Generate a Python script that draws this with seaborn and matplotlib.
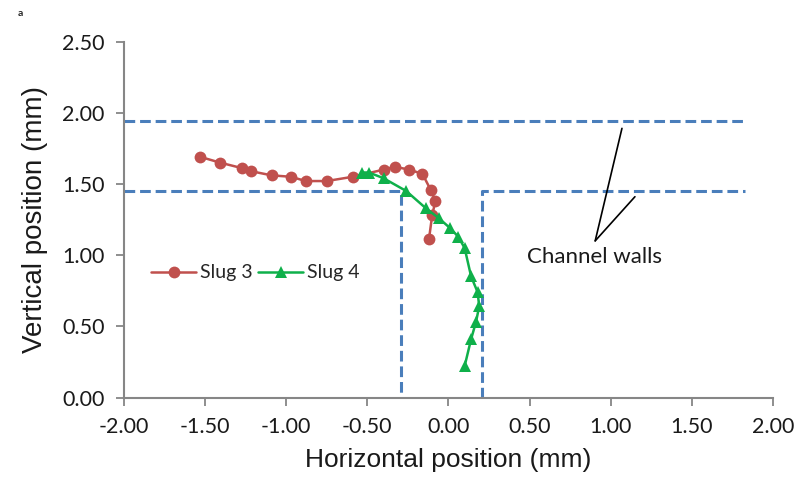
import matplotlib.pyplot as plt
import pandas as pd
import seaborn as sns

# slug centre trajectories (mm)
slug3_x = [-1.53, -1.41, -1.27, -1.22, -1.09, -0.97, -0.88, -0.75, -0.59,
           -0.40, -0.33, -0.24, -0.16, -0.11, -0.08, -0.10, -0.12]
slug3_y = [1.69, 1.65, 1.61, 1.59, 1.56, 1.55, 1.52, 1.52, 1.55,
           1.60, 1.62, 1.60, 1.57, 1.46, 1.38, 1.28, 1.11]
slug4_x = [-0.53, -0.49, -0.40, -0.26, -0.14, -0.06, 0.01, 0.06, 0.10,
           0.14, 0.18, 0.19, 0.17, 0.14, 0.10]
slug4_y = [1.58, 1.58, 1.54, 1.45, 1.33, 1.26, 1.19, 1.13, 1.05,
           0.85, 0.74, 0.64, 0.53, 0.41, 0.22]

# channel wall geometry (mm)
wall_upper_y = 1.94
wall_lower_y = 1.45
wall_left_x = -0.29
wall_right_x = 0.21
wall_start_x = -2.0
wall_end_x = 1.83

x_ticks = [-2.0, -1.5, -1.0, -0.5, 0.0, 0.5, 1.0, 1.5, 2.0]
y_ticks = [0.0, 0.5, 1.0, 1.5, 2.0, 2.5]

df = pd.concat([
    pd.DataFrame({"x": slug3_x, "y": slug3_y, "slug": "Slug 3"}),
    pd.DataFrame({"x": slug4_x, "y": slug4_y, "slug": "Slug 4"}),
])

sns.set_theme(style="ticks")
plt.rcParams["font.family"] = ["Lato", "DejaVu Sans"]

fig = plt.figure(figsize=(8, 5), dpi=100)
ax = fig.add_axes([0.155, 0.205, 0.811, 0.712])

# walls
wall_kw = dict(color="#4a7ebb", lw=2.2, linestyle=(0, (3.5, 1.6)), zorder=1)
ax.plot([wall_start_x, wall_end_x], [wall_upper_y, wall_upper_y], **wall_kw)
ax.plot([wall_start_x, wall_left_x, wall_left_x],
        [wall_lower_y, wall_lower_y, 0], **wall_kw)
ax.plot([wall_right_x, wall_right_x, wall_end_x],
        [0, wall_lower_y, wall_lower_y], **wall_kw)

sns.lineplot(
    data=df, x="x", y="y", hue="slug", style="slug",
    palette=["#c0504d", "#0fb04a"], markers=["o", "^"], dashes=False,
    sort=False, estimator=None, lw=1.8, markersize=8.5,
    markeredgewidth=0, ax=ax, zorder=3,
)

# annotation
apex = (0.905, 1.10)
for end in [(1.07, 1.89), (1.15, 1.41)]:
    ax.annotate("", xy=end, xytext=apex,
                arrowprops=dict(arrowstyle="-", color="black", lw=1.2,
                                shrinkA=0, shrinkB=0))
ax.text(0.9, 0.99, "Channel walls", ha="center", va="center",
        fontsize=16, color="#1a1a1a")

ax.set_xlim(-2.0, 2.0)
ax.set_ylim(0.0, 2.5)
ax.set_xticks(x_ticks)
ax.set_yticks(y_ticks)
ax.set_xticklabels([f"{v:.2f}" for v in x_ticks])
ax.set_yticklabels([f"{v:.2f}" for v in y_ticks])
ax.tick_params(axis="both", labelsize=15.5, colors="#868686",
               labelcolor="#1a1a1a", length=6, width=1.3, pad=8)
for s in ["top", "right"]:
    ax.spines[s].set_visible(False)
for s in ["left", "bottom"]:
    ax.spines[s].set_color("#868686")
    ax.spines[s].set_linewidth(1.5)

ax.set_xlabel("Horizontal position (mm)", fontsize=19,
              family=["Liberation Sans"], color="#1a1a1a", labelpad=8)
ax.set_ylabel("Vertical position (mm)", fontsize=20,
              family=["Liberation Sans"], color="#1a1a1a", labelpad=10)

handles, labels = ax.get_legend_handles_labels()
ax.legend(handles, labels, ncol=2, frameon=False, fontsize=14,
          loc="center left", bbox_to_anchor=(0.015, 0.35),
          handlelength=2.3, columnspacing=0.3, handletextpad=0.2)

fig.text(0.022, 0.982, "a", fontsize=7.5, fontweight="bold", va="top")

fig.savefig("out.png", dpi=100)
